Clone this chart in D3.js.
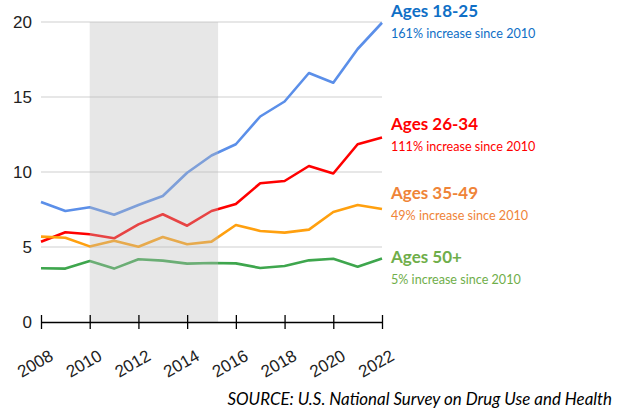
<!DOCTYPE html>
<html lang="en">
<head>
    <meta charset="UTF-8">
    <title>Rates by age group</title>
    <style>
        body { margin: 0; background: #fff; }
        svg { display: block; }
    </style>
    <script src="https://d3js.org/d3.v7.min.js"></script>
</head>
<body>
    <svg width="625" height="417"></svg>
    <script>
        const years = d3.range(2008, 2023);
        const ages1825 = [8.0, 7.4, 7.65, 7.15, 7.8, 8.4, 9.95, 11.1, 11.85, 13.7, 14.7, 16.6, 15.95, 18.2, 19.95];
        const ages2634 = [5.35, 5.98, 5.85, 5.58, 6.51, 7.18, 6.42, 7.4, 7.87, 9.25, 9.4, 10.4, 9.9, 11.85, 12.3];
        const ages3549 = [5.69, 5.62, 5.04, 5.42, 5.02, 5.67, 5.18, 5.36, 6.47, 6.07, 5.96, 6.16, 7.33, 7.8, 7.53];
        const ages50 = [3.58, 3.56, 4.07, 3.56, 4.18, 4.09, 3.89, 3.93, 3.91, 3.6, 3.73, 4.11, 4.22, 3.69, 4.24];
        const yTicks = [0, 5, 10, 15, 20];
        const xTicks = [2008, 2010, 2012, 2014, 2016, 2018, 2020, 2022];
        const shadeRange = [2010, 2015.27];

        const series = [
            { name: "Ages 18-25", note: "161% increase since 2010", values: ages1825, line: "#5b8fe9", text: "#0f6fc6", ty: 17 },
            { name: "Ages 26-34", note: "111% increase since 2010", values: ages2634, line: "#ff0000", text: "#ff0000", ty: 130 },
            { name: "Ages 35-49", note: "49% increase since 2010", values: ages3549, line: "#ffa00f", text: "#ef8438", ty: 199 },
            { name: "Ages 50+", note: "5% increase since 2010", values: ages50, line: "#3ea64d", text: "#6fae4a", ty: 263 }
        ];

        const svg = d3.select("svg");
        const x = d3.scaleLinear().domain([2008, 2022]).range([41, 382]);
        const y = d3.scaleLinear().domain([0, 20]).range([322, 22]);

        // gridlines
        svg.append("g")
            .selectAll("line")
            .data(yTicks.filter(d => d > 0))
            .join("line")
            .attr("x1", x(2008))
            .attr("x2", x(2022))
            .attr("y1", d => y(d))
            .attr("y2", d => y(d))
            .attr("stroke", "#cfcfcf")
            .attr("stroke-width", 1);

        // y labels
        svg.append("g")
            .selectAll("text")
            .data(yTicks)
            .join("text")
            .attr("x", 32)
            .attr("y", d => y(d) + 6)
            .attr("text-anchor", "end")
            .attr("font-family", "Liberation Sans, Arial, sans-serif")
            .attr("font-size", 17)
            .attr("fill", "#222")
            .text(d => d);

        // lines
        const line = d3.line()
            .x((d, i) => x(years[i]))
            .y(d => y(d));

        svg.append("g")
            .selectAll("path")
            .data(series)
            .join("path")
            .attr("d", d => line(d.values))
            .attr("fill", "none")
            .attr("stroke", d => d.line)
            .attr("stroke-width", 2.6)
            .attr("stroke-linejoin", "round");

        // shaded period overlay
        svg.append("rect")
            .attr("x", x(shadeRange[0]))
            .attr("width", x(shadeRange[1]) - x(shadeRange[0]))
            .attr("y", y(20))
            .attr("height", y(0) - y(20))
            .attr("fill", "#bdbdbd")
            .attr("opacity", 0.36);

        // x axis
        const xAxis = d3.axisBottom(x)
            .tickValues(xTicks)
            .tickFormat(d3.format("d"))
            .tickSizeInner(7)
            .tickSizeOuter(0);

        const gx = svg.append("g")
            .attr("transform", `translate(0,${y(0)})`)
            .call(xAxis);
        gx.select(".domain").attr("stroke", "#000").attr("stroke-width", 1.5);
        gx.selectAll(".tick line")
            .attr("y1", -7)
            .attr("stroke", "#000")
            .attr("stroke-width", 1.3);
        gx.selectAll(".tick text")
            .attr("font-family", "Liberation Sans, Arial, sans-serif")
            .attr("font-size", 17)
            .attr("fill", "#222")
            .attr("text-anchor", "end")
            .attr("transform", "translate(10,32) rotate(-30)")
            .attr("y", 0)
            .attr("dy", "0.35em");

        // series labels
        const labels = svg.append("g")
            .selectAll("g")
            .data(series)
            .join("g")
            .attr("font-family", "Lato, sans-serif");

        labels.append("text")
            .attr("x", 391)
            .attr("y", d => d.ty)
            .attr("font-size", 17)
            .attr("font-weight", "bold")
            .attr("fill", d => d.text)
            .text(d => d.name);

        labels.append("text")
            .attr("x", 391)
            .attr("y", d => d.ty + 21)
            .attr("font-size", 12.6)
            .attr("fill", d => d.text)
            .text(d => d.note);

        // source
        svg.append("text")
            .attr("x", 612)
            .attr("y", 405)
            .attr("text-anchor", "end")
            .attr("font-family", "Lato, sans-serif")
            .attr("font-style", "italic")
            .attr("font-size", 16.9)
            .attr("fill", "#000")
            .text("SOURCE: U.S. National Survey on Drug Use and Health");
    </script>
</body>
</html>
